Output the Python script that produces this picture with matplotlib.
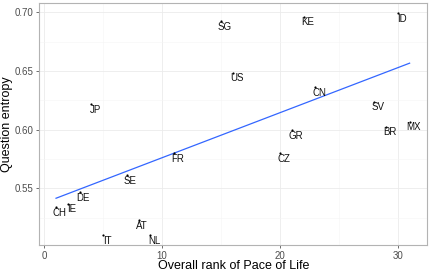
import numpy as np
import matplotlib
matplotlib.use("Agg")
import matplotlib.pyplot as plt

countries = ['CH', 'IE', 'DE', 'JP', 'IT', 'SE', 'AT', 'NL', 'FR', 'SG',
             'US', 'CZ', 'GR', 'KE', 'CN', 'SV', 'BR', 'ID', 'MX']
pace_rank = [1, 2, 3, 4, 5, 7, 8, 9, 11, 15, 16, 20, 21, 22, 23, 28, 29, 30, 31]
entropy = [0.5342, 0.5370, 0.5469, 0.6219, 0.5103, 0.5614, 0.5231, 0.5103,
           0.5799, 0.6928, 0.6486, 0.5799, 0.5997, 0.6963, 0.6361, 0.6239,
           0.6026, 0.6991, 0.6068]
x_ticks = [0, 10, 20, 30]
y_ticks = [0.55, 0.60, 0.65, 0.70]

plt.rcParams['font.family'] = ['Liberation Sans', 'DejaVu Sans']

fig = plt.figure(figsize=(4.29, 2.72), dpi=100)
ax = fig.add_axes([0.0916, 0.0982, 0.9044, 0.8918])

ax.set_xlim(-0.42, 32.5)
ax.set_ylim(0.5015, 0.7082)

# grid
ax.set_xticks(x_ticks)
ax.set_yticks(y_ticks)
ax.set_xticks([5, 15, 25], minor=True)
ax.set_yticks([0.525, 0.575, 0.625, 0.675], minor=True)
ax.grid(which='major', color='#EBEBEB', lw=0.6)
ax.grid(which='minor', color='#F5F5F5', lw=0.4)
ax.set_axisbelow(True)
ax.tick_params(which='minor', length=0)
ax.tick_params(which='major', length=2.5, width=0.6, color='#555555',
               labelsize=7, labelcolor='#4D4D4D', pad=1.5)
ax.set_yticklabels(['%.2f' % v for v in y_ticks])

for s in ax.spines.values():
    s.set_color('#B3B3B3')
    s.set_linewidth(0.8)

# points and labels
ax.scatter(pace_rank, entropy, s=2.5, color='black', zorder=3, linewidths=0)
for c, xv, yv in zip(countries, pace_rank, entropy):
    ax.annotate(c, (xv, yv), xytext=(2.7, -6.3), textcoords='offset points',
                ha='center', va='baseline', fontsize=7, color='#111111', zorder=4)

# linear fit
coef = np.polyfit(pace_rank, entropy, 1)
xs = np.array([min(pace_rank), max(pace_rank)])
ax.plot(xs, np.polyval(coef, xs), color='#3366FF', lw=0.9, zorder=2)

ax.set_xlabel('Overall rank of Pace of Life', fontsize=9, labelpad=-0.5)
ax.set_ylabel('Question entropy', fontsize=9, labelpad=1.5)

fig.savefig('out.png', dpi=100)
